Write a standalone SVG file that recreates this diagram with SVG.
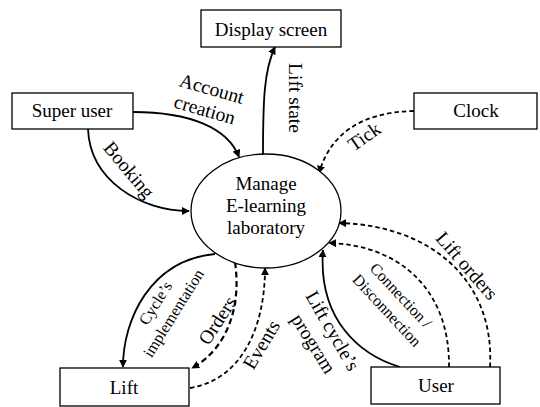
<svg xmlns="http://www.w3.org/2000/svg" width="540" height="407" viewBox="0 0 540 407">
<style>
  .box{fill:#fff;stroke:#000;stroke-width:1.3}
  .t{font-family:"Liberation Serif","Times New Roman",serif;font-size:19px;fill:#000;text-anchor:middle}
  .l{font-family:"Liberation Serif","Times New Roman",serif;font-size:19.5px;fill:#000;text-anchor:middle}
  .s{font-size:16px}
  .c{fill:none;stroke:#000;stroke-width:1.8}
  .d{fill:none;stroke:#000;stroke-width:1.8;stroke-dasharray:4.5 3}
  .db{fill:none;stroke:#000;stroke-width:2.2;stroke-dasharray:6 3.5}
</style>
<defs>
  <marker id="ah" viewBox="0 0 10 10" refX="9" refY="5" markerWidth="8" markerHeight="8" markerUnits="userSpaceOnUse" orient="auto">
    <path d="M0,0 L10,5 L0,10 z" fill="#000"/>
  </marker>
</defs>
<rect width="540" height="407" fill="#fff"/>
<g id="connectors">
  <path class="c" d="M133,112 C190,112 228,128 239,157" marker-end="url(#ah)"/>
  <path class="c" d="M88,129 C90,180 140,211 189,211" marker-end="url(#ah)"/>
  <path class="c" d="M263,156 C263,100 264,70 275,47" marker-end="url(#ah)"/>
  <path class="d" d="M414,111 C360,112 330,135 319,173" marker-end="url(#ah)"/>
  <path class="c" d="M215,254 C150,260 123,320 123,367" marker-end="url(#ah)"/>
  <path class="db" d="M235,262 C242,310 225,350 192,368" marker-end="url(#ah)"/>
  <path class="d" d="M190,388 C240,380 265,330 265,268" marker-end="url(#ah)"/>
  <path class="c" d="M400,367 C360,355 318,320 323,250" marker-end="url(#ah)"/>
  <path class="d" d="M449,367 C450,290 400,245 329,243" marker-end="url(#ah)"/>
  <path class="d" d="M490,367 C495,280 430,225 339,223" marker-end="url(#ah)"/>
  <text class="l" transform="translate(210,95) rotate(16)">Account</text>
  <text class="l" transform="translate(203,116) rotate(16)">creation</text>
  <text class="l" transform="translate(124,174) rotate(50)">Booking</text>
  <text class="l" transform="translate(289,98) rotate(90)">Lift state</text>
  <text class="l" transform="translate(368,142) rotate(-35)">Tick</text>
  <text class="l s" transform="translate(160,306) rotate(-58)">Cycle’s</text>
  <text class="l s" transform="translate(178,316) rotate(-58)">implementation</text>
  <text class="l" transform="translate(223,324) rotate(-57)">Orders</text>
  <text class="l" transform="translate(267,348) rotate(-59)">Events</text>
  <text class="l" transform="translate(327,334) rotate(60)">Lift cycle’s</text>
  <text class="l" transform="translate(308,347) rotate(58)">program</text>
  <text class="l s" transform="translate(397,299) rotate(47)">Connection /</text>
  <text class="l s" transform="translate(383,314) rotate(47)">Disconnection</text>
  <text class="l" transform="translate(462,270) rotate(49)">Lift orders</text>
</g>
<g id="display"><rect class="box" x="201" y="10" width="140" height="37"/><text class="t" x="271" y="36">Display screen</text></g>
<g id="superuser"><rect class="box" x="12" y="93" width="121" height="36"/><text class="t" x="72" y="117">Super user</text></g>
<g id="clock"><rect class="box" x="414" y="93" width="123" height="36"/><text class="t" x="476" y="117">Clock</text></g>
<g id="manage"><ellipse class="box" cx="266" cy="211" rx="75" ry="57"/>
  <text class="t" x="266" y="190">Manage</text>
  <text class="t" x="266" y="212">E-learning</text>
  <text class="t" x="266" y="234">laboratory</text>
</g>
<g id="lift"><rect class="box" x="60" y="368" width="129" height="38"/><text class="t" x="124" y="394">Lift</text></g>
<g id="user"><rect class="box" x="371" y="367" width="129" height="37"/><text class="t" x="436" y="392">User</text></g>
</svg>
